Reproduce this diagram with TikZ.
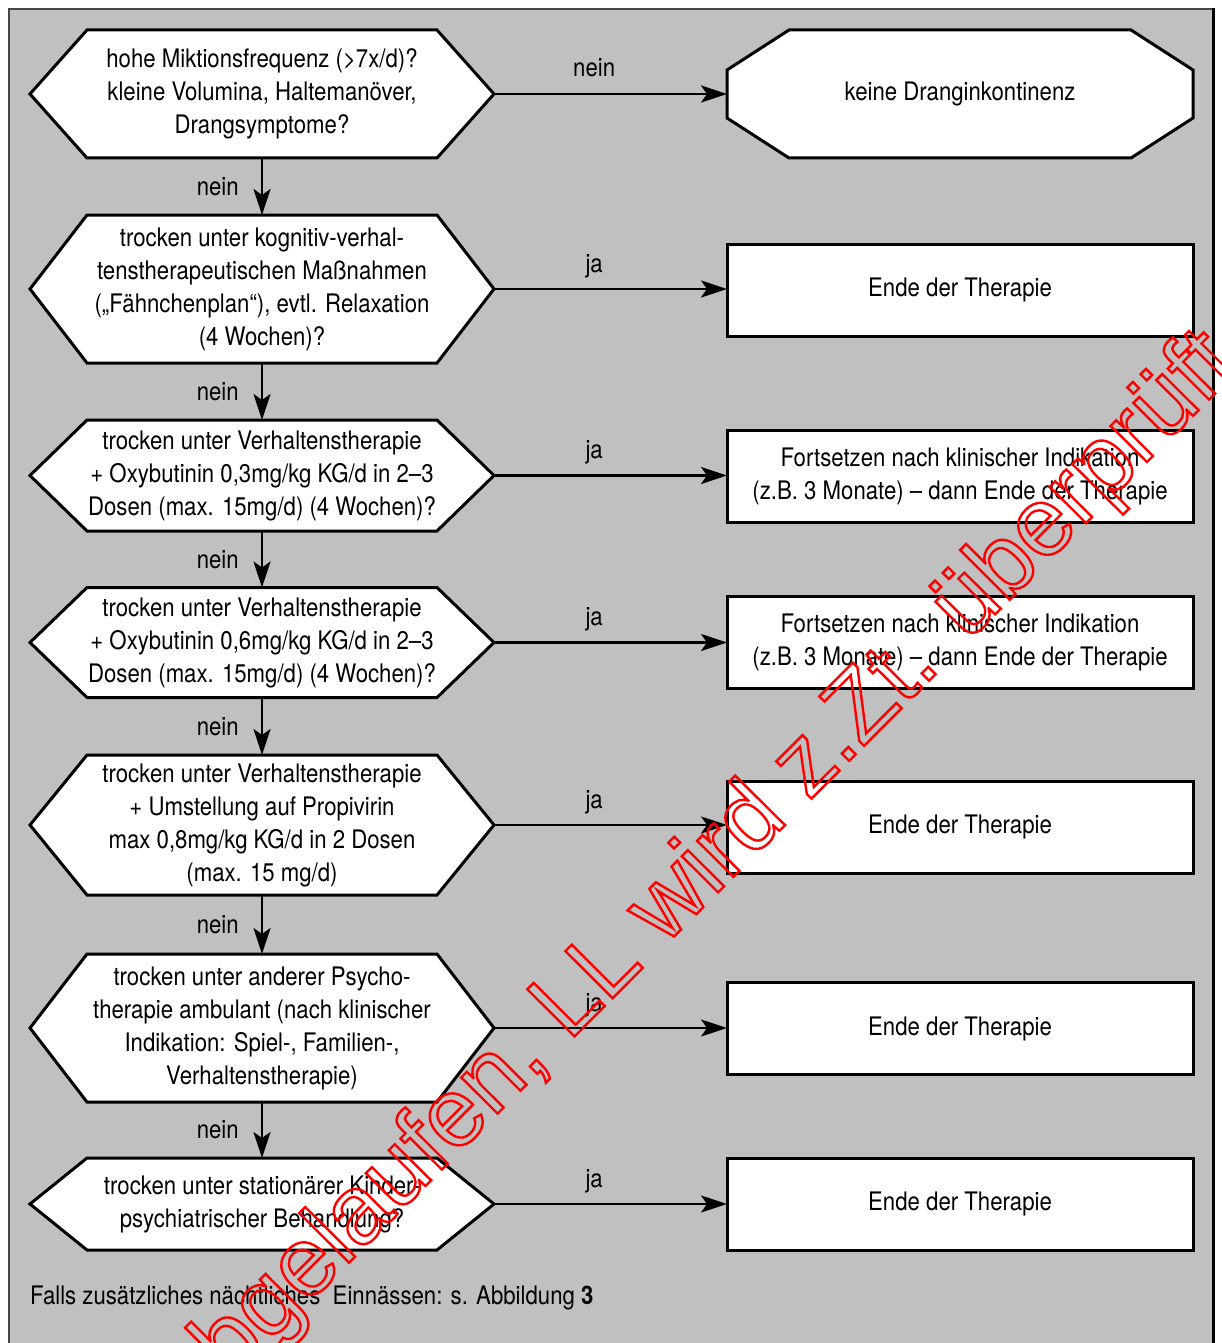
\documentclass[tikz,border=0pt]{standalone}
\usepackage{fontspec}
\setmainfont{TeX Gyre Heros}[FakeStretch=0.87]
\newfontfamily\wmfont{Liberation Sans}
\usetikzlibrary{arrows.meta,calc}
\definecolor{bggray}{RGB}{192,192,192}
\definecolor{framegray}{RGB}{70,70,70}

\makeatletter
\newdimen\hexinset \hexinset=57pt
\newdimen\octcx \octcx=62pt
\newdimen\octcy \octcy=40pt
\newdimen\shpxa \newdimen\shpya \newdimen\shpxb \newdimen\shpyb \newdimen\shpym
\pgfdeclareshape{hexbox}{%
  \inheritsavedanchors[from=rectangle]%
  \inheritanchorborder[from=rectangle]%
  \inheritanchor[from=rectangle]{center}%
  \inheritanchor[from=rectangle]{north}%
  \inheritanchor[from=rectangle]{south}%
  \inheritanchor[from=rectangle]{east}%
  \inheritanchor[from=rectangle]{west}%
  \inheritanchor[from=rectangle]{north east}%
  \inheritanchor[from=rectangle]{north west}%
  \inheritanchor[from=rectangle]{south east}%
  \inheritanchor[from=rectangle]{south west}%
  \backgroundpath{%
    \southwest \shpxa=\pgf@x \shpya=\pgf@y
    \northeast \shpxb=\pgf@x \shpyb=\pgf@y
    \shpym=.5\shpya \advance\shpym by .5\shpyb
    \pgfpathmoveto{\pgfqpoint{\shpxa}{\shpym}}%
    \pgfpathlineto{\pgfqpoint{\dimexpr\shpxa+\hexinset\relax}{\shpyb}}%
    \pgfpathlineto{\pgfqpoint{\dimexpr\shpxb-\hexinset\relax}{\shpyb}}%
    \pgfpathlineto{\pgfqpoint{\shpxb}{\shpym}}%
    \pgfpathlineto{\pgfqpoint{\dimexpr\shpxb-\hexinset\relax}{\shpya}}%
    \pgfpathlineto{\pgfqpoint{\dimexpr\shpxa+\hexinset\relax}{\shpya}}%
    \pgfpathclose
  }%
}
\pgfdeclareshape{octbox}{%
  \inheritsavedanchors[from=rectangle]%
  \inheritanchorborder[from=rectangle]%
  \inheritanchor[from=rectangle]{center}%
  \inheritanchor[from=rectangle]{north}%
  \inheritanchor[from=rectangle]{south}%
  \inheritanchor[from=rectangle]{east}%
  \inheritanchor[from=rectangle]{west}%
  \backgroundpath{%
    \southwest \shpxa=\pgf@x \shpya=\pgf@y
    \northeast \shpxb=\pgf@x \shpyb=\pgf@y
    \pgfpathmoveto{\pgfqpoint{\shpxa}{\dimexpr\shpya+\octcy\relax}}%
    \pgfpathlineto{\pgfqpoint{\shpxa}{\dimexpr\shpyb-\octcy\relax}}%
    \pgfpathlineto{\pgfqpoint{\dimexpr\shpxa+\octcx\relax}{\shpyb}}%
    \pgfpathlineto{\pgfqpoint{\dimexpr\shpxb-\octcx\relax}{\shpyb}}%
    \pgfpathlineto{\pgfqpoint{\shpxb}{\dimexpr\shpyb-\octcy\relax}}%
    \pgfpathlineto{\pgfqpoint{\shpxb}{\dimexpr\shpya+\octcy\relax}}%
    \pgfpathlineto{\pgfqpoint{\dimexpr\shpxb-\octcx\relax}{\shpya}}%
    \pgfpathlineto{\pgfqpoint{\dimexpr\shpxa+\octcx\relax}{\shpya}}%
    \pgfpathclose
  }%
}
\makeatother

\tikzset{
  txt/.style={font=\fontsize{25.5}{33}\selectfont},
  hex/.style={txt, shape=hexbox, draw, fill=white, line width=3pt,
    minimum width=464pt, align=center, inner sep=0pt, outer sep=0pt},
  endbox/.style={txt, rectangle, draw, fill=white, line width=3pt,
    minimum width=466pt, minimum height=92pt, align=center, inner sep=0pt, outer sep=0pt},
  octnode/.style={txt, shape=octbox, draw, fill=white, line width=3pt,
    minimum width=466pt, align=center, inner sep=0pt, outer sep=0pt},
  arr/.style={line width=2.5pt, -{Stealth[length=26pt,width=17pt,inset=6pt]}},
  hlbl/.style={txt, inner sep=0pt, pos=0.43, anchor=base, yshift=17pt},
  vlbl/.style={txt, inner sep=0pt, pos=0.5, anchor=east, xshift=-22pt}
}

\begin{document}
\begin{tikzpicture}[x=1pt,y=-1pt]
\useasboundingbox (0,0) rectangle (1221,1343);
% frame
\fill[bggray] (9,9) rectangle (1213,1343);
\draw[framegray, line width=1.5pt] (9,1343) -- (9,9) -- (1213,9);
\draw[black, line width=3pt] (1213,8) -- (1213,1343);

% decision nodes
\node[hex, minimum height=128pt] (h1) at (262,94)
  {hohe Miktionsfrequenz (>7x/d)?\\kleine Volumina, Haltemanöver,\\Drangsymptome?};
\node[hex, minimum height=148pt] (h2) at (262,289)
  {trocken unter kognitiv-verhal-\\tenstherapeutischen Maßnahmen\\(„Fähnchenplan“), evtl. Relaxation\\(4 Wochen)?};
\node[hex, minimum height=111pt] (h3) at (262,475.5)
  {trocken unter Verhaltenstherapie\\+ Oxybutinin 0,3mg/kg KG/d in 2–3\\Dosen (max. 15mg/d) (4 Wochen)?};
\node[hex, minimum height=110pt] (h4) at (262,642.5)
  {trocken unter Verhaltenstherapie\\+ Oxybutinin 0,6mg/kg KG/d in 2–3\\Dosen (max. 15mg/d) (4 Wochen)?};
\node[hex, minimum height=140pt] (h5) at (262,825)
  {trocken unter Verhaltenstherapie\\+ Umstellung auf Propivirin\\max 0,8mg/kg KG/d in 2 Dosen\\(max. 15 mg/d)};
\node[hex, minimum height=148pt] (h6) at (262,1028)
  {trocken unter anderer Psycho-\\therapie ambulant (nach klinischer\\Indikation: Spiel-, Familien-,\\Verhaltenstherapie)};
\node[hex, minimum height=92pt] (h7) at (262,1204)
  {trocken unter stationärer Kinder-\\psychiatrischer Behandlung?};

% result nodes
\node[octnode, minimum height=128pt] (r1) at (960,94) {keine Dranginkontinenz};
\node[endbox] (r2) at (960,290) {Ende der Therapie};
\node[endbox] (r3) at (960,476) {Fortsetzen nach klinischer Indikation\\(z.B. 3 Monate) – dann Ende der Therapie};
\node[endbox] (r4) at (960,642) {Fortsetzen nach klinischer Indikation\\(z.B. 3 Monate) – dann Ende der Therapie};
\node[endbox] (r5) at (960,827) {Ende der Therapie};
\node[endbox] (r6) at (960,1028.5) {Ende der Therapie};
\node[endbox] (r7) at (960,1204) {Ende der Therapie};

% horizontal connectors
\draw[arr] (h1.east) -- node[hlbl] {nein} (h1.east -| r1.west);
\draw[arr] (h2.east) -- node[hlbl] {ja} (h2.east -| r2.west);
\draw[arr] (h3.east) -- node[hlbl] {ja} (h3.east -| r3.west);
\draw[arr] (h4.east) -- node[hlbl] {ja} (h4.east -| r4.west);
\draw[arr] (h5.east) -- node[hlbl] {ja} (h5.east -| r5.west);
\draw[arr] (h6.east) -- node[hlbl] {ja} (h6.east -| r6.west);
\draw[arr] (h7.east) -- node[hlbl] {ja} (h7.east -| r7.west);

% vertical connectors
\draw[arr] (h1.south) -- node[vlbl] {nein} (h2.north);
\draw[arr] (h2.south) -- node[vlbl] {nein} (h3.north);
\draw[arr] (h3.south) -- node[vlbl] {nein} (h4.north);
\draw[arr] (h4.south) -- node[vlbl] {nein} (h5.north);
\draw[arr] (h5.south) -- node[vlbl] {nein} (h6.north);
\draw[arr] (h6.south) -- node[vlbl] {nein} (h7.north);

% footnote
\node[txt, anchor=west, inner sep=0pt] (foot) at (30,1298)
  {Falls zusätzliches nächtliches\ \ Einnässen: s. Abbildung \textbf{3}};

% watermark (outlined red text)
\node[rotate=45.1, text=red, inner sep=0pt] (wm) at (699,876)
  {\wmfont\fontsize{97}{100}\selectfont\special{pdf:literal direct 1 Tr 2.4 w}abgelaufen, LL wird z.Zt. überprüft\special{pdf:literal direct 0 Tr}};
\end{tikzpicture}
\end{document}
